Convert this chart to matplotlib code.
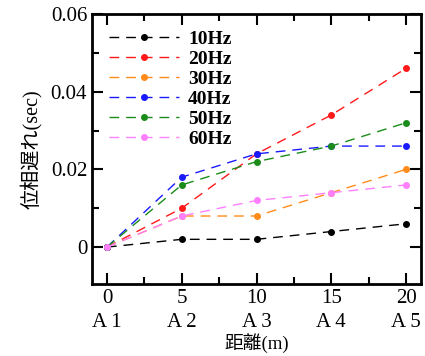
import numpy as np
import matplotlib.pyplot as plt
from matplotlib.ticker import MultipleLocator

plt.rcParams['font.family'] = ['Liberation Serif', 'Noto Sans CJK JP']

# distance along the line (m) and sensor labels
distance = [0, 5, 10, 15, 20]
sensors = ['A 1', 'A 2', 'A 3', 'A 4', 'A 5']

# phase delay (sec) per frequency
lag_10 = [0, 0.002, 0.002, 0.004, 0.006]
lag_20 = [0, 0.010, 0.024, 0.034, 0.046]
lag_30 = [0, 0.008, 0.008, 0.014, 0.020]
lag_40 = [0, 0.018, 0.024, 0.026, 0.026]
lag_50 = [0, 0.016, 0.022, 0.026, 0.032]
lag_60 = [0, 0.008, 0.012, 0.014, 0.016]

series = [
    ('10Hz', lag_10, 'black'),
    ('20Hz', lag_20, '#ff1a1a'),
    ('30Hz', lag_30, '#ff8c1a'),
    ('40Hz', lag_40, '#1a1aff'),
    ('50Hz', lag_50, '#1a8c1a'),
    ('60Hz', lag_60, '#ff80ff'),
]

fig = plt.figure(figsize=(4.25, 3.56), dpi=100)
ax = fig.add_axes([92 / 425, 1 - 284 / 356, 329 / 425, 270 / 356])

for name, vals, col in series:
    ax.plot(distance, vals, color=col, lw=1, ls=(0, (7, 5)),
            marker='o', ms=4, label=name)

ax.set_xlim(-1, 21)
ax.set_ylim(-0.0095, 0.06)
ax.xaxis.set_minor_locator(MultipleLocator(2.5))
ax.yaxis.set_minor_locator(MultipleLocator(0.01))
ax.set_xticks(distance)
ax.set_xticklabels([f'{d}\n{s}' for d, s in zip(distance, sensors)],
                   linespacing=1.35)
ax.set_yticks([0, 0.02, 0.04, 0.06])
ax.set_yticklabels(['0', '0.02', '0.04', '0.06'])

ax.tick_params(which='both', direction='in', top=True, right=True,
               width=1.5, labelsize=15)
ax.tick_params(which='major', length=8)
ax.tick_params(which='minor', length=5)
for sp in ax.spines.values():
    sp.set_linewidth(2)

ax.set_xlabel('距離(m)', fontsize=13.5, labelpad=1)
ax.set_ylabel('位相遅れ(sec)', fontsize=14.5, labelpad=6)

leg = ax.legend(loc='upper left', frameon=False, handlelength=3.6,
                prop={'weight': 'bold', 'size': 14}, labelspacing=0.12,
                borderaxespad=0.45, handletextpad=0.5)

fig.savefig('out.png', dpi=100)
